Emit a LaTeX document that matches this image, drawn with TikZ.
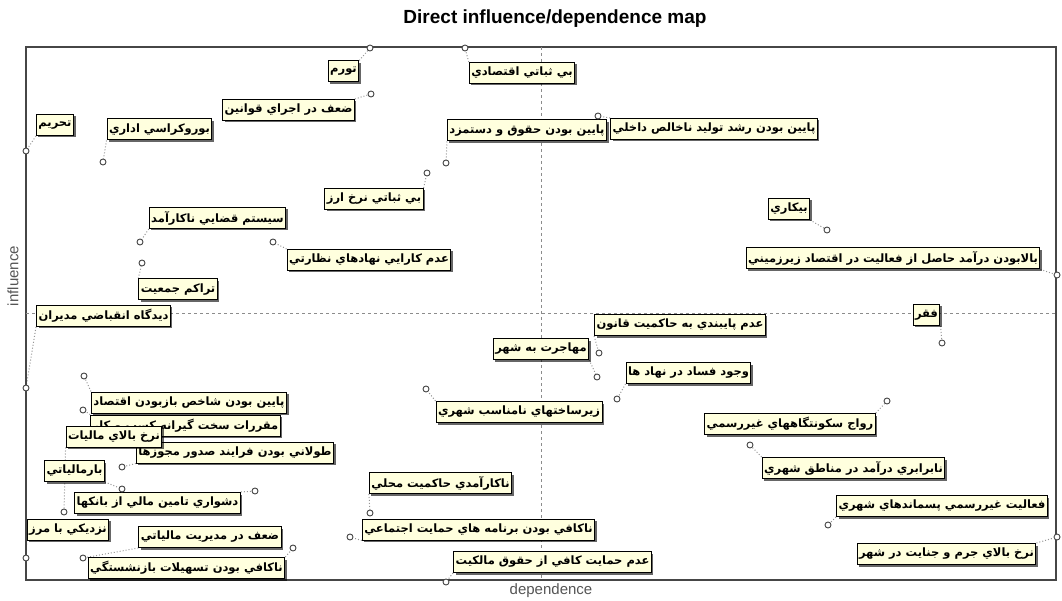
\documentclass[tikz,border=0pt]{standalone}
\usepackage{fontspec}
\setmainfont{Liberation Sans}
\newfontfamily\arabicfont[Script=Arabic]{DejaVu Sans}
\TeXXeTstate=1
\usetikzlibrary{shadows,backgrounds}
\definecolor{boxcream}{RGB}{255,255,222}
\definecolor{framegray}{RGB}{70,70,70}
\definecolor{axisgray}{RGB}{140,140,140}
\definecolor{linkgray}{RGB}{150,150,150}
\definecolor{labelgray}{RGB}{85,85,85}
\newcommand{\rtl}[1]{\beginR #1\endR}

\begin{document}
\begin{tikzpicture}[
    x=1pt, y=-1pt,
    factor/.style={draw, fill=boxcream, line width=1pt, inner sep=2pt, minimum height=21pt, font=\arabicfont\bfseries\fontsize{11.5}{13}\selectfont, drop shadow={shadow xshift=2pt, shadow yshift=-2pt, opacity=0.6, fill=black}},
    pt/.style={circle, draw=framegray, fill=white, line width=0.9pt, inner sep=0pt, minimum size=6pt},
    link/.style={draw=linkgray, dotted, line width=1pt}
]
\useasboundingbox (0,0) rectangle (1062,601);

\draw[framegray, line width=1.2pt] (26,47) rectangle (1056,580);
\draw[axisgray, dashed] (541,47) -- (541,580);
\draw[axisgray, dashed] (26,313) -- (1056,313);

\node[font=\bfseries\fontsize{19}{22}\selectfont] (title) at (555,19) {Direct influence/dependence map};
\node[rotate=90, text=labelgray, font=\fontsize{15}{17}\selectfont] (ylab) at (13,276) {influence};
\node[text=labelgray, font=\fontsize{15}{17}\selectfont] (xlab) at (551,591) {dependence};

\node[factor] (f1) at (343.5,71.5) {\rtl{تورم}};
\node[factor] (f2) at (522,73) {\rtl{بي ثباتي اقتصادي}};
\node[factor] (f3) at (288.5,110) {\rtl{ضعف در اجراي قوانين}};
\node[factor] (f4) at (159.5,129.5) {\rtl{بوروکراسي اداري}};
\node[factor] (f5) at (55,125) {\rtl{تحريم}};
\node[factor] (f6) at (527,130.5) {\rtl{پايين بودن حقوق و دستمزد}};
\node[factor] (f7) at (714,129) {\rtl{پايين بودن رشد توليد ناخالص داخلي}};
\node[factor] (f8) at (374,199) {\rtl{بي ثباتي نرخ ارز}};
\node[factor] (f9) at (217.5,218) {\rtl{سيستم قضايي ناکارآمد}};
\node[factor] (f10) at (369,260) {\rtl{عدم کارايي  نهادهاي نظارتي}};
\node[factor] (f11) at (178,289.5) {\rtl{تراکم جمعيت}};
\node[factor] (f12) at (103.5,316) {\rtl{ديدگاه انقباضي مديران}};
\node[factor] (f13) at (789,209) {\rtl{بيکاري}};
\node[factor] (f14) at (893,258.5) {\rtl{بالابودن درآمد حاصل از فعاليت در اقتصاد زيرزميني}};
\node[factor] (f15) at (926.5,315) {\rtl{فقر}};
\node[factor] (f16) at (680,325) {\rtl{عدم پايبندي به حاکميت قانون}};
\node[factor] (f17) at (541,349) {\rtl{مهاجرت به شهر}};
\node[factor] (f18) at (688.5,373) {\rtl{وجود فساد در نهاد ها}};
\node[factor] (f19) at (519,412) {\rtl{زيرساختهاي نامناسب شهري}};
\node[factor] (f20) at (790,424) {\rtl{رواج سکونتگاههاي غيررسمي}};
\node[factor] (f21) at (853.5,468) {\rtl{نابرابري درآمد در مناطق شهري}};
\node[factor] (f22) at (942,506) {\rtl{فعاليت غيررسمي پسماندهاي شهري}};
\node[factor] (f23) at (946.5,554) {\rtl{نرخ بالاي جرم و جنايت در شهر}};
\node[factor] (f24) at (440.5,483) {\rtl{ناکارآمدي حاکميت محلي}};
\node[factor] (f25) at (478.5,529.5) {\rtl{ناکافي بودن برنامه هاي حمايت اجتماعي}};
\node[factor] (f26) at (552.5,562) {\rtl{عدم حمايت کافي از حقوق مالکيت}};
\node[factor] (f27) at (189,402.5) {\rtl{پايين بودن شاخص بازبودن اقتصاد}};
\node[factor] (f28) at (185.5,425.5) {\rtl{مقررات سخت گيرانه کسب و کار}};
\node[factor] (f30) at (235,452.5) {\rtl{طولاني بودن فرايند صدور مجوزها}};
\node[factor] (f29) at (114,436.5) {\rtl{نرخ بالاي ماليات}};
\node[factor] (f31) at (74.5,471) {\rtl{بارمالياتي}};
\node[factor] (f32) at (157.5,503) {\rtl{دشواري تامين مالي از بانکها}};
\node[factor] (f33) at (68,529.5) {\rtl{نزديکي با مرز}};
\node[factor] (f34) at (210,537) {\rtl{ضعف در مديريت مالياتي}};
\node[factor] (f35) at (186.5,568) {\rtl{ناکافي بودن تسهيلات بازنشستگي}};

\node[pt] (p1) at (370,48) {};
\node[pt] (p2) at (465,48) {};
\node[pt] (p3) at (371,94) {};
\node[pt] (p4) at (103,162) {};
\node[pt] (p5) at (26,151) {};
\node[pt] (p6) at (446,163) {};
\node[pt] (p7) at (598,116) {};
\node[pt] (p8) at (427,173) {};
\node[pt] (p9) at (140,242) {};
\node[pt] (p10) at (273,242) {};
\node[pt] (p11) at (142,263) {};
\node[pt] (p12) at (26,388) {};
\node[pt] (p13) at (827,230) {};
\node[pt] (p14) at (1057,275) {};
\node[pt] (p15) at (942,343) {};
\node[pt] (p16) at (599,353) {};
\node[pt] (p17) at (597,377) {};
\node[pt] (p18) at (617,399) {};
\node[pt] (p19) at (426,389) {};
\node[pt] (p20) at (887,401) {};
\node[pt] (p21) at (750,445) {};
\node[pt] (p22) at (828,525) {};
\node[pt] (p23) at (1057,537) {};
\node[pt] (p24) at (370,513) {};
\node[pt] (p25) at (350,537) {};
\node[pt] (p26) at (446,582) {};
\node[pt] (p27) at (84,376) {};
\node[pt] (p28) at (83,410) {};
\node[pt] (p29) at (64,512) {};
\node[pt] (p30) at (122,467) {};
\node[pt] (p31) at (122,489) {};
\node[pt] (p32) at (255,491) {};
\node[pt] (p33) at (26,558) {};
\node[pt] (p34) at (83,558) {};
\node[pt] (p35) at (293,548) {};

\begin{scope}[on background layer]
\foreach \f/\a in {1/north east, 2/north west, 3/north east, 4/south west, 5/south west, 6/south west, 7/north west, 8/north east, 9/south west, 10/north west, 11/north west, 12/south west, 13/south east, 14/south east, 15/south east, 16/south west, 17/south east, 18/south west, 19/north west, 20/north east, 21/north west, 22/south west, 23/north east, 24/south west, 25/south west, 26/south west, 27/north west, 28/north west, 29/south west, 30/south west, 31/south east, 32/north east, 33/south west, 34/south west, 35/north east}
  \draw[link] (f\f.\a) -- (p\f);
\end{scope}

\end{tikzpicture}
\end{document}
